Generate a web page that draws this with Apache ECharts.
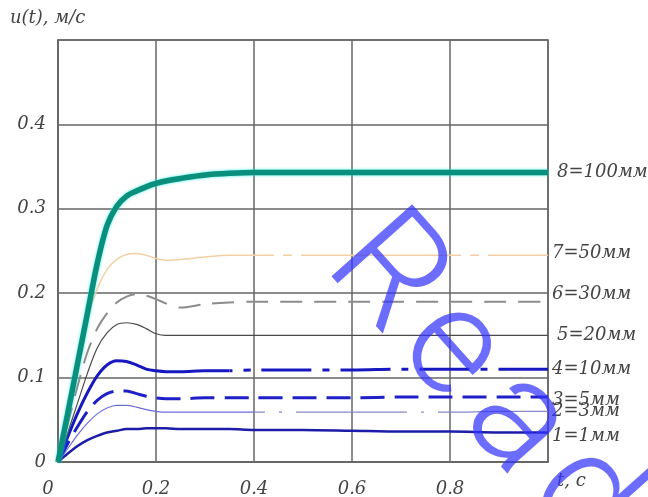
<!DOCTYPE html>
<html>
<head>
<meta charset="utf-8">
<script src="https://cdn.jsdelivr.net/npm/echarts@6/dist/echarts.min.js"></script>
<style>
  html, body { margin: 0; padding: 0; background: #fff; }
  #chart { width: 648px; height: 497px; }
</style>
</head>
<body>
<div id="chart"></div>
<script>
// Time samples, s
const T = [0, 0.02, 0.04, 0.06, 0.08, 0.10, 0.12, 0.14, 0.16, 0.18, 0.20, 0.22, 0.25, 0.30, 0.35, 0.40, 0.50, 0.60, 0.70, 0.80, 0.90, 1.00];

// Velocity u(t), m/s, for each gap size
const U1 = [0, 0.010, 0.019, 0.026, 0.031, 0.035, 0.037, 0.039, 0.039, 0.040, 0.040, 0.040, 0.039, 0.039, 0.039, 0.038, 0.038, 0.037, 0.036, 0.036, 0.035, 0.035];
const U2 = [0, 0.016, 0.032, 0.046, 0.057, 0.064, 0.067, 0.067, 0.065, 0.062, 0.060, 0.059, 0.059, 0.059, 0.059, 0.059, 0.059, 0.059, 0.059, 0.059, 0.060, 0.060];
const U3 = [0, 0.022, 0.042, 0.060, 0.073, 0.081, 0.084, 0.084, 0.081, 0.078, 0.076, 0.075, 0.075, 0.076, 0.076, 0.076, 0.076, 0.076, 0.077, 0.077, 0.077, 0.077];
const U4 = [0, 0.030, 0.058, 0.082, 0.102, 0.115, 0.120, 0.119, 0.115, 0.110, 0.108, 0.107, 0.107, 0.108, 0.108, 0.109, 0.109, 0.109, 0.110, 0.110, 0.110, 0.110];
const U5 = [0, 0.035, 0.070, 0.105, 0.135, 0.153, 0.163, 0.165, 0.163, 0.158, 0.152, 0.150, 0.150, 0.150, 0.150, 0.150, 0.150, 0.150, 0.150, 0.150, 0.150, 0.150];
const U6 = [0, 0.045, 0.090, 0.130, 0.158, 0.176, 0.189, 0.196, 0.199, 0.197, 0.193, 0.188, 0.183, 0.187, 0.189, 0.190, 0.190, 0.190, 0.190, 0.190, 0.190, 0.190];
const U7 = [0, 0.055, 0.115, 0.170, 0.205, 0.228, 0.240, 0.246, 0.247, 0.245, 0.241, 0.239, 0.240, 0.243, 0.245, 0.245, 0.245, 0.245, 0.245, 0.245, 0.245, 0.245];
const U8 = [0, 0.058, 0.117, 0.176, 0.235, 0.280, 0.303, 0.315, 0.321, 0.326, 0.330, 0.333, 0.336, 0.340, 0.342, 0.343, 0.343, 0.343, 0.343, 0.343, 0.343, 0.343];

const NAMES = ['1=1мм', '2=3мм', '3=5мм', '4=10мм', '5=20мм', '6=30мм', '7=50мм', '8=100мм'];
const X_TITLE = 't, c';
const Y_TITLE = 'u(t), м/с';
const WATERMARK = 'Read';

const FONT = '"DejaVu Serif", "Liberation Serif", serif';
const TEXT_COLOR = '#444';
const GRID_COLOR = '#666';

// [t, u] pairs between two times (inclusive)
function pairs(u, from, to) {
  const out = [];
  for (let i = 0; i < T.length; i++) {
    if (T[i] >= from - 1e-9 && T[i] <= to + 1e-9) out.push([T[i], u[i]]);
  }
  return out;
}

function endLabel(name, dx, dy) {
  return {
    show: true,
    formatter: name,
    offset: [dx, dy],
    distance: 4,
    fontFamily: FONT,
    fontStyle: 'italic',
    fontSize: 18,
    color: TEXT_COLOR
  };
}

function line(name, data, style, label) {
  const s = {
    name: name,
    type: 'line',
    data: data,
    showSymbol: false,
    symbol: 'none',
    smooth: 0.3,
    silent: true,
    lineStyle: style,
    z: 3
  };
  if (label) s.endLabel = label;
  return s;
}

const series = [
  // 1 — solid
  line(NAMES[0], pairs(U1, 0, 1), { color: '#1c1ca8', width: 2.5 }, endLabel(NAMES[0], 0, 4)),
  // 2 — solid, then long dash-dot
  line(NAMES[1] + ' a', pairs(U2, 0, 0.4), { color: '#6c6cd8', width: 1.2 }),
  line(NAMES[1], pairs(U2, 0.4, 1), { color: '#8888cc', width: 1.2, type: [111, 14, 3, 14], dashOffset: 100 }, endLabel(NAMES[1], 0, 0)),
  // 3 — dashed
  line(NAMES[2], pairs(U3, 0, 1), { color: '#1f1fc8', width: 3, type: [24, 10] }, endLabel(NAMES[2], 0, 3)),
  // 4 — solid, then dash-dot
  line(NAMES[3] + ' a', pairs(U4, 0, 0.35), { color: '#1818c0', width: 3 }),
  line(NAMES[3], pairs(U4, 0.35, 1), { color: '#1818c0', width: 3, type: [50, 11, 7, 11], dashOffset: 47 }, endLabel(NAMES[3], 0, 0)),
  // 5 — thin solid
  line(NAMES[4], pairs(U5, 0, 1), { color: '#4a4a4a', width: 1.2 }, endLabel(NAMES[4], 5, 0)),
  // 6 — grey dashed
  line(NAMES[5], pairs(U6, 0, 1), { color: '#8c8c8c', width: 2, type: [22, 12] }, endLabel(NAMES[5], 0, -7)),
  // 7 — light solid, then sparse dash-dot
  line(NAMES[6] + ' a', pairs(U7, 0, 0.4), { color: '#f4cfa6', width: 1.5 }),
  line(NAMES[6], pairs(U7, 0.4, 1), { color: '#f4cfa6', width: 1.5, type: [160, 9, 9, 9], dashOffset: 140 }, endLabel(NAMES[6], 0, -2)),
  // 8 — bold teal
  line(NAMES[7], pairs(U8, 0, 1), { color: '#0a8f7c', width: 5.5, shadowColor: 'rgba(40,230,230,0.9)', shadowBlur: 3 }, endLabel(NAMES[7], 5, 0))
];
series[series.length - 1].z = 4;

// Diagonal watermark, one glyph at a time along the slant
const WM_START = [383, 277];
const WM_STEP = [66, 74];
const WM_ANGLE = -Math.atan2(WM_STEP[1], WM_STEP[0]);
const watermark = WATERMARK.split('').map(function (ch, i) {
  return {
    type: 'text',
    x: WM_START[0] + i * WM_STEP[0],
    y: WM_START[1] + i * WM_STEP[1],
    rotation: WM_ANGLE,
    z: 100,
    silent: true,
    style: {
      text: ch,
      fontFamily: 'Roboto, "Open Sans", sans-serif',
      fontWeight: 300,
      fontSize: 152,
      fill: 'rgba(51,51,255,0.72)',
      align: 'center',
      verticalAlign: 'middle'
    }
  };
});

const chart = echarts.init(document.getElementById('chart'), null, { renderer: 'canvas' });
chart.setOption({
  animation: false,
  backgroundColor: '#fff',
  grid: {
    left: 58, right: 100, top: 40, bottom: 35,
    containLabel: false,
    outerBoundsMode: 'none',
    show: true,
    borderColor: GRID_COLOR,
    borderWidth: 1.5,
    backgroundColor: 'transparent'
  },
  xAxis: {
    type: 'value',
    min: 0, max: 1, interval: 0.2,
    name: X_TITLE,
    nameLocation: 'end',
    nameGap: 9,
    nameTextStyle: {
      fontFamily: FONT, fontStyle: 'italic', fontSize: 18, color: TEXT_COLOR,
      verticalAlign: 'top', align: 'left', padding: [10, 0, 0, 0]
    },
    axisLine: { show: true, lineStyle: { color: GRID_COLOR, width: 1.5 } },
    axisTick: { show: false },
    splitLine: { show: true, lineStyle: { color: GRID_COLOR, width: 1.5 } },
    axisLabel: {
      margin: 18,
      fontFamily: FONT, fontStyle: 'italic', fontSize: 18, color: TEXT_COLOR,
      formatter: function (v) {
        if (v >= 1) return '';
        if (v === 0) return '{o|0}';
        return v.toFixed(1);
      },
      rich: {
        o: { fontFamily: FONT, fontStyle: 'italic', fontSize: 18, color: TEXT_COLOR, padding: [0, 20, 0, 0] }
      }
    }
  },
  yAxis: {
    type: 'value',
    min: 0, max: 0.5, interval: 0.1,
    axisLine: { show: true, lineStyle: { color: GRID_COLOR, width: 1.5 } },
    axisTick: { show: false },
    splitLine: { show: true, lineStyle: { color: GRID_COLOR, width: 1.5 } },
    axisLabel: {
      margin: 12,
      fontFamily: FONT, fontStyle: 'italic', fontSize: 18, color: TEXT_COLOR,
      formatter: function (v) {
        if (v >= 0.5) return '';
        if (v === 0) return '0';
        return v.toFixed(1);
      }
    }
  },
  graphic: [
    {
      type: 'text',
      x: 10, y: 18,
      silent: true,
      style: {
        text: Y_TITLE,
        fontFamily: FONT, fontStyle: 'italic', fontSize: 18,
        fill: TEXT_COLOR,
        align: 'left', verticalAlign: 'middle'
      }
    }
  ].concat(watermark),
  series: series
});
</script>
</body>
</html>
